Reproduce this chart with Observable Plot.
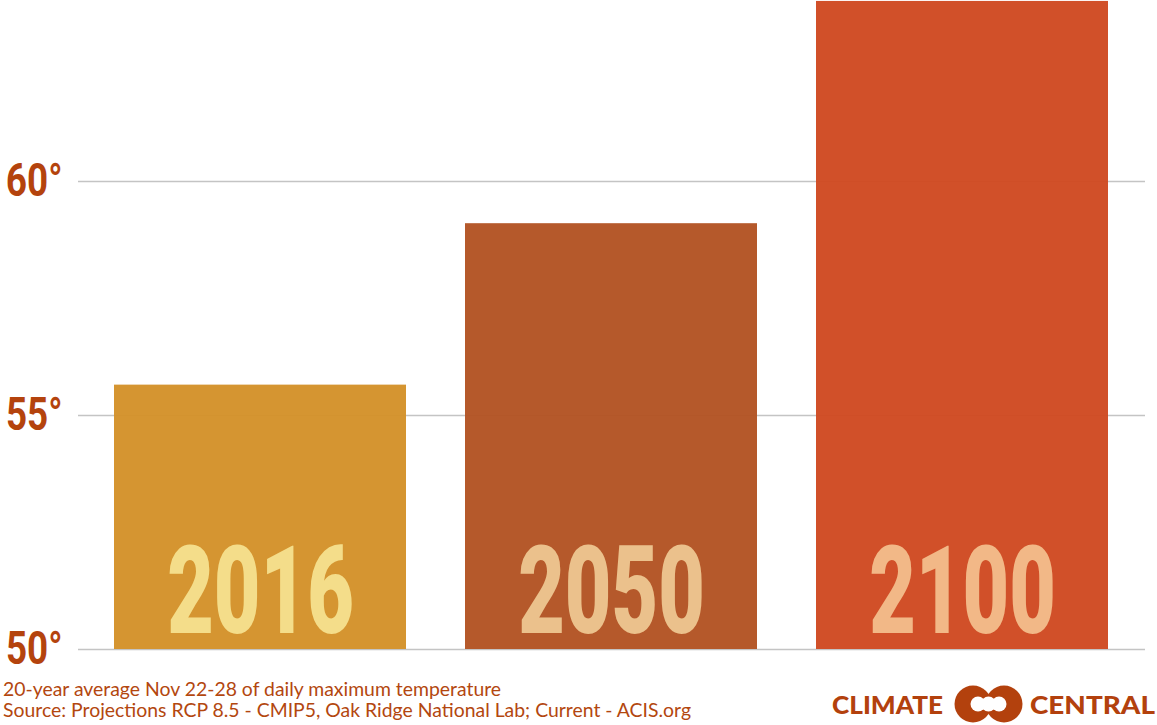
<!DOCTYPE html>
<html><head><meta charset="utf-8">
<script src="https://cdn.jsdelivr.net/npm/d3@7"></script>
<script src="https://cdn.jsdelivr.net/npm/@observablehq/plot@0.6"></script>
<style>
body{margin:0;background:#fff;width:1157px;height:725px;overflow:hidden;position:relative;font-family:Lato,"Open Sans",sans-serif}
#chart{position:absolute;left:0;top:0}
#note{position:absolute;left:3px;top:678px;color:#b3470f;font-size:19.4px;line-height:21px;white-space:nowrap}
#logo{position:absolute;left:830px;top:684px}
</style></head><body>
<div id="chart"></div>
<div id="note">20-year average Nov 22-28 of daily maximum temperature<br>Source: Projections RCP 8.5 - CMIP5, Oak Ridge National Lab; Current - ACIS.org</div>
<svg id="logo" width="327" height="41" viewBox="0 0 327 41">
  <text x="2" y="30" font-family="Lato, 'Open Sans', sans-serif" font-weight="900" font-size="24" fill="#b3410d" textLength="111" lengthAdjust="spacingAndGlyphs">CLIMATE</text>
  <circle cx="143" cy="20" r="18.5" fill="#b3410d"/>
  <circle cx="174" cy="20" r="18.5" fill="#b3410d"/>
  <circle cx="148" cy="20" r="7.5" fill="#fff"/>
  <circle cx="158.5" cy="20" r="7.5" fill="#fff"/>
  <circle cx="169" cy="20" r="7.5" fill="#fff"/>
  <text x="200" y="30" font-family="Lato, 'Open Sans', sans-serif" font-weight="900" font-size="24" fill="#b3410d" textLength="125" lengthAdjust="spacingAndGlyphs">CENTRAL</text>
</svg>
<script>
const years = ["2016", "2050", "2100"];
const temps = [55.65, 59.1, 63.85];
const barColors = ["#d4922a", "#b35424", "#cf4a22"];
const labelColors = ["#f4dd8a", "#ebc18c", "#f2b887"];
const yTicks = [50, 55, 60];
const axisColor = "#b4430d";

const data = years.map((y, i) => ({year: y, temp: temps[i], bar: barColors[i], label: labelColors[i]}));

const chart = Plot.plot({
  width: 1157,
  height: 650,
  marginLeft: 78,
  marginRight: 12,
  marginTop: 0,
  marginBottom: 1,
  style: {overflow: "visible", background: "transparent"},
  x: {domain: years, paddingInner: 0.1676, paddingOuter: 0.1, axis: null},
  y: {domain: [50, 63.87], axis: null},
  color: {type: "identity"},
  marks: [
    Plot.gridY(yTicks, {stroke: "#c4c4c4", strokeOpacity: 1, strokeWidth: 1.5}),
    Plot.barY(data, {x: "year", y1: 50, y2: "temp", fill: "bar", fillOpacity: 0.97}),
    Plot.axisY(yTicks, {tickSize: 0, tickPadding: 16, label: null, tickFormat: d => d + "°", fontSize: 46, fontWeight: 700, fontFamily: "Roboto", fill: axisColor}),
    Plot.text(data, {x: "year", y: 50, text: "year", fill: "label", lineAnchor: "bottom", dy: -17, fontSize: 122, fontWeight: 900, fontFamily: "Roboto"})
  ]
});
document.getElementById("chart").appendChild(chart);

function squeeze(sel, s) {
  d3.select(chart).selectAll(sel).each(function() {
    const t = d3.select(this);
    let tr = t.attr("transform");
    if (!tr) {
      const x = +t.attr("x") || 0, y = +t.attr("y") || 0;
      t.attr("x", null).attr("y", null);
      tr = `translate(${x},${y})`;
    }
    t.attr("transform", tr + ` scale(${s},1)`);
  });
}
squeeze('g[aria-label="y-axis tick label"] text', 0.8);
squeeze('g[aria-label="text"] text', 0.66);
</script>
</body></html>
